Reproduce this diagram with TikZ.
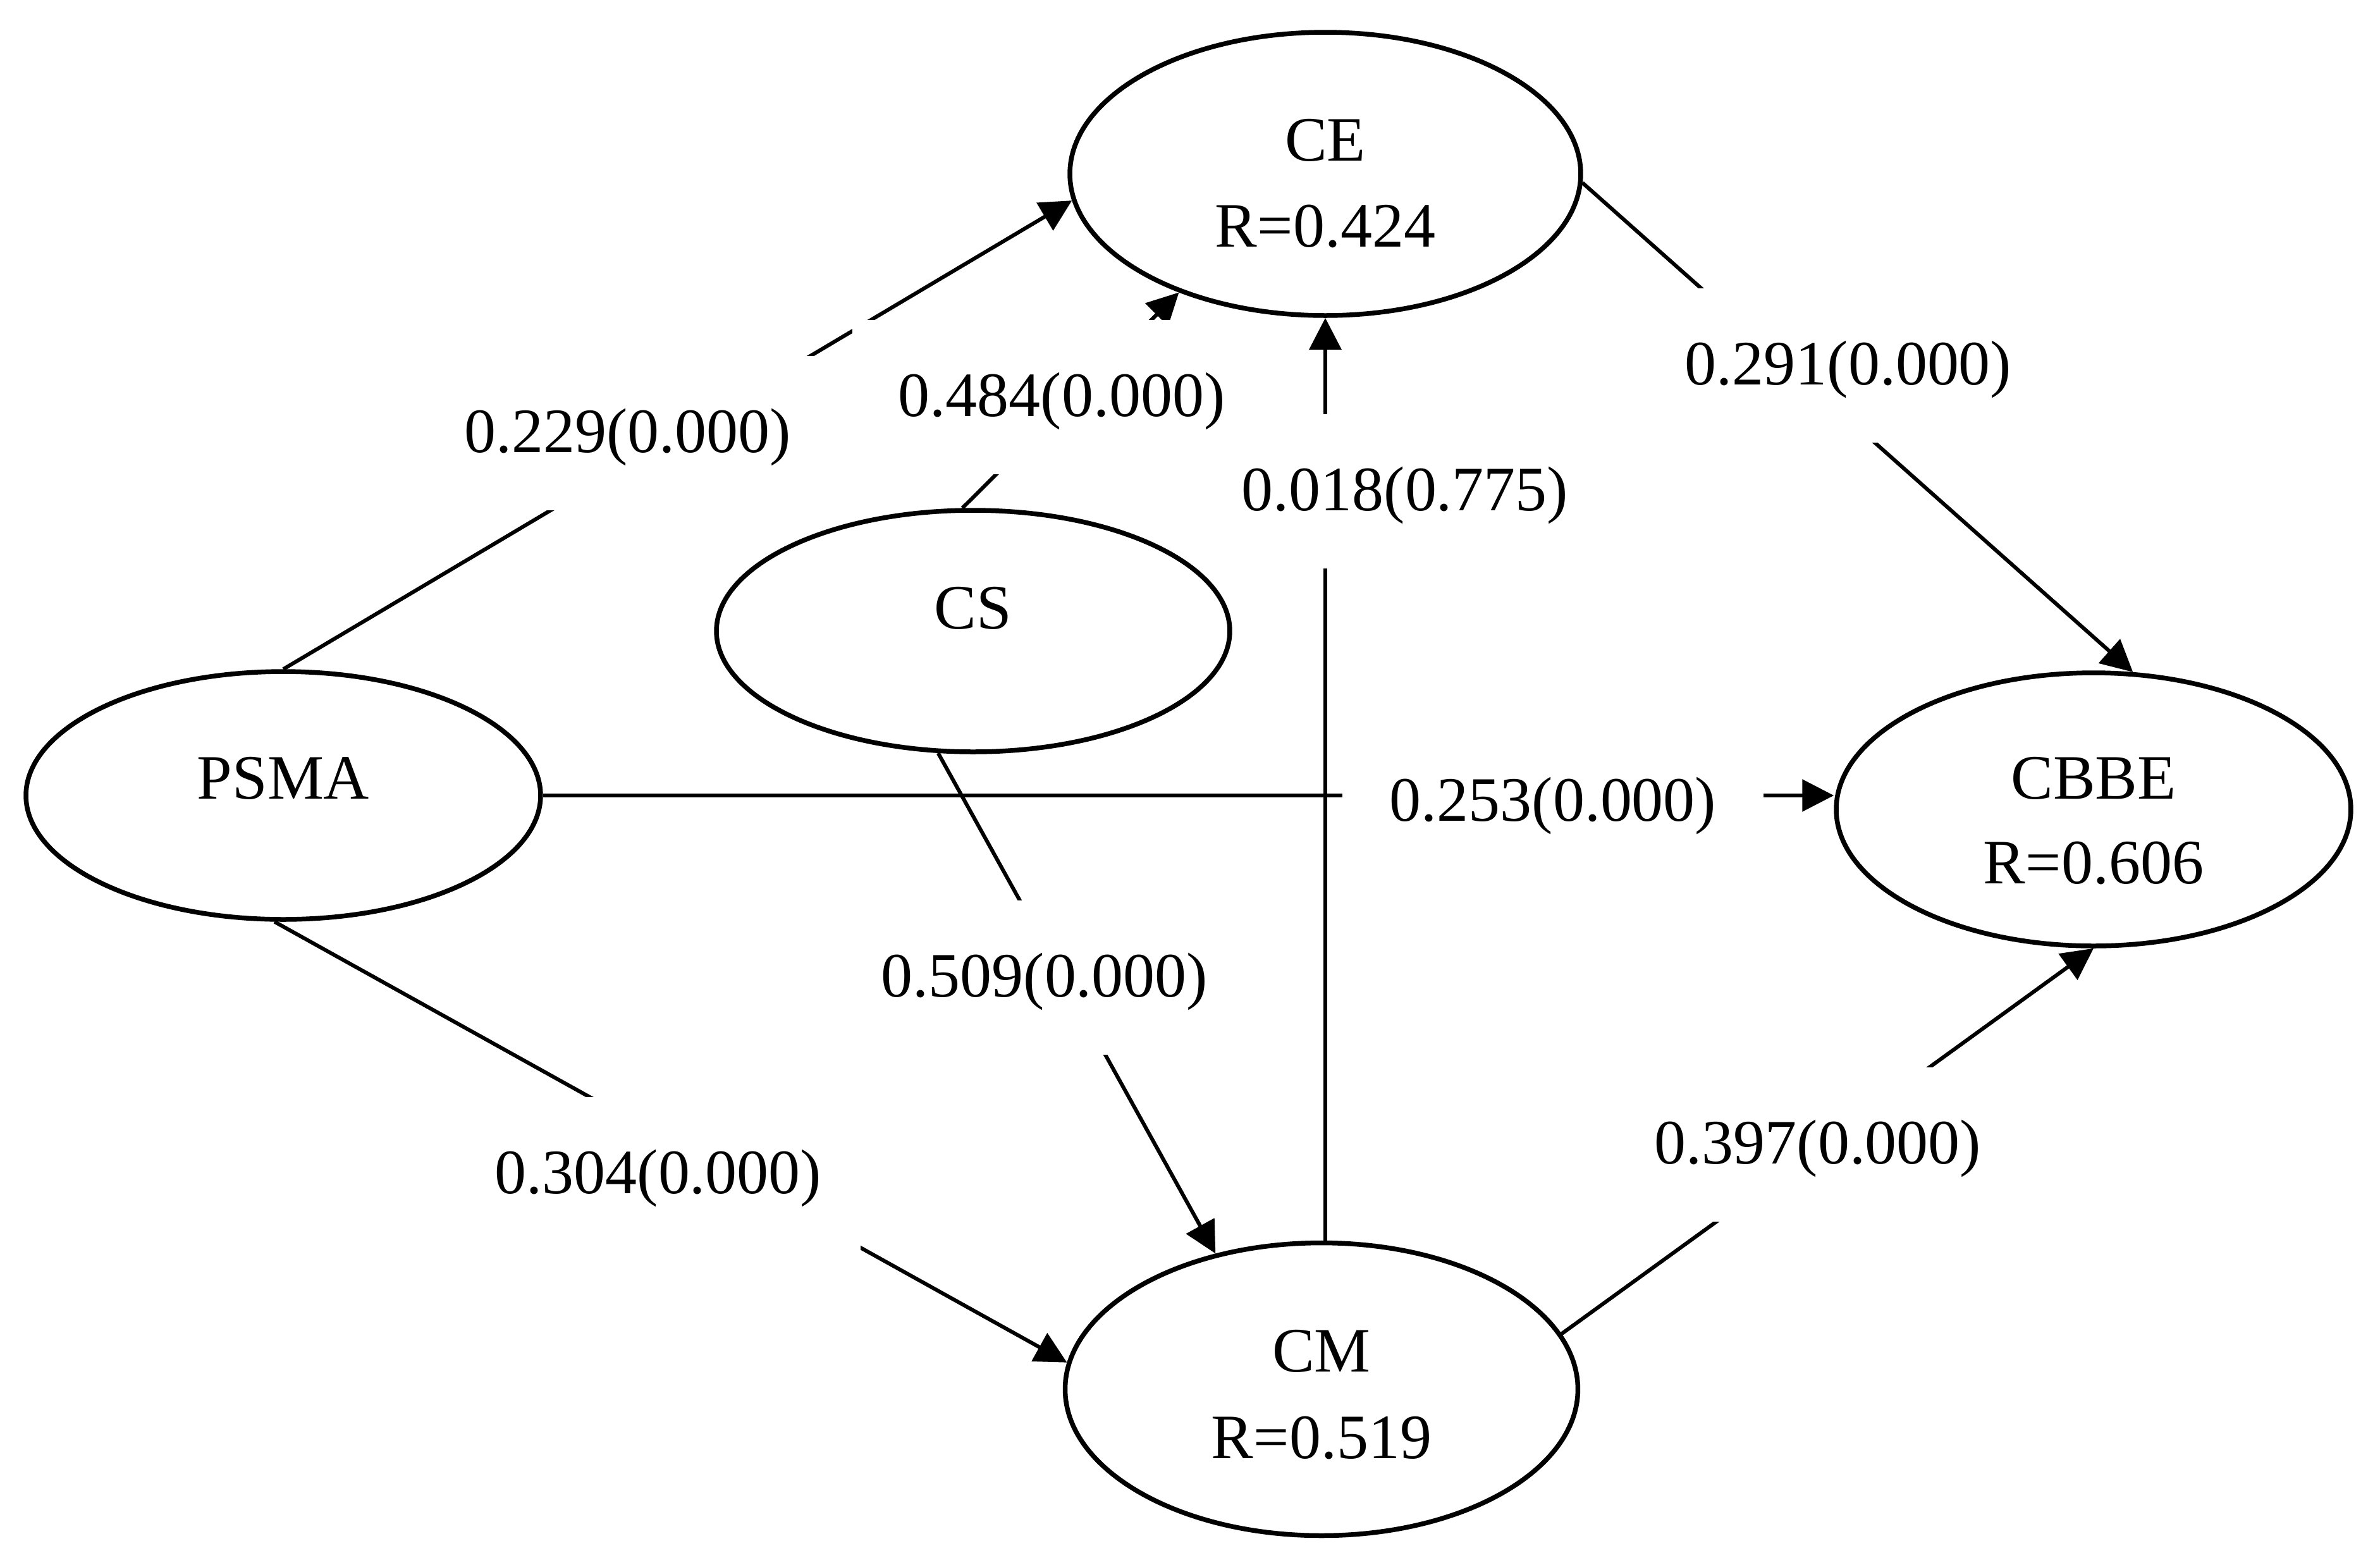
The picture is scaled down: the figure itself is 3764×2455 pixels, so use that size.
\documentclass[tikz,border=0pt]{standalone}
\usepackage{fontspec}
\setmainfont{Liberation Serif}
\usetikzlibrary{shapes.geometric,arrows.meta,calc}
\begin{document}
\begin{tikzpicture}[x=0.1pt,y=-0.1pt,
  every node/.style={font=\fontsize{10pt}{13.6pt}\selectfont},
  latent/.style={ellipse, draw, line width=0.75pt, inner sep=0pt},
  txt/.style={anchor=base, inner sep=0pt},
  lbl/.style={fill=white, inner sep=0pt, minimum height=24.4pt, text height=7.8pt, text depth=1.8pt},
  conn/.style={line width=0.6pt, -{Triangle[length=5pt,width=5pt]}}
]
\fill[white] (0,0) rectangle (3764,2455);
\useasboundingbox (0,0) rectangle (3764,2455);

% latent variables
\node[latent, minimum width=80.8pt, minimum height=44.8pt] (CE) at (2096,275) {};
\node[latent, minimum width=81.2pt, minimum height=38.2pt] (CS) at (1539,998) {};
\node[latent, minimum width=81.4pt, minimum height=39.2pt] (PSMA) at (448,1258) {};
\node[latent, minimum width=81.4pt, minimum height=43.2pt] (CBBE) at (3311,1280) {};
\node[latent, minimum width=81.1pt, minimum height=46.3pt] (CM) at (2090,2197) {};

% texts inside ellipses
\node[txt] (CEt1) at ($(CE.center)+(0,-21)$) {CE};
\node[txt] (CEt2) at ($(CE.center)+(0,115)$) {R=0.424};
\node[txt] (CSt) at ($(CS.center)+(0,-4)$) {CS};
\node[txt] (PSMAt) at ($(PSMA.center)+(0,5)$) {PSMA};
\node[txt] (CBBEt1) at ($(CBBE.center)+(0,-17)$) {CBBE};
\node[txt] (CBBEt2) at ($(CBBE.center)+(0,117)$) {R=0.606};
\node[txt] (CMt1) at ($(CM.center)+(0,-28)$) {CM};
\node[txt] (CMt2) at ($(CM.center)+(0,109)$) {R=0.519};

% paths
\draw[conn] (PSMA.north) -- (CE.186);
\draw[conn] (CS.95) -- (CE.219);
\draw[conn] (CS.254) -- (CM.128);
\draw[conn] (CM.north -| CE.south) -- (CE.south);
\draw[conn] (PSMA.266) -- (CM.174);
\draw[conn] (PSMA.east) -- (PSMA.east -| CBBE.west);
\draw[conn] (CE.358) -- (CBBE.74);
\draw[conn] (CM.13) -- (CBBE.south);

% coefficient labels (white boxes over the paths)
\node[lbl, minimum width=60pt] (L229) at (993,685) {0.229(0.000)};
\node[lbl, anchor=west] (L484) at (1346,628) {\hspace*{7.3pt}0.484(0.000)};
\node[lbl, minimum width=56pt] (L018) at (2222,777) {0.018(0.775)};
\node[lbl, minimum width=66.7pt] (L253) at (2456,1268) {0.253(0.000)};
\node[lbl, minimum width=60pt] (L291) at (2923,578) {0.291(0.000)};
\node[lbl, minimum width=64pt] (L304) at (1041,1857) {0.304(0.000)};
\node[lbl, minimum width=60pt] (L509) at (1652,1546) {0.509(0.000)};
\node[lbl, minimum width=60pt] (L397) at (2875,1810) {0.397(0.000)};
\end{tikzpicture}
\end{document}
